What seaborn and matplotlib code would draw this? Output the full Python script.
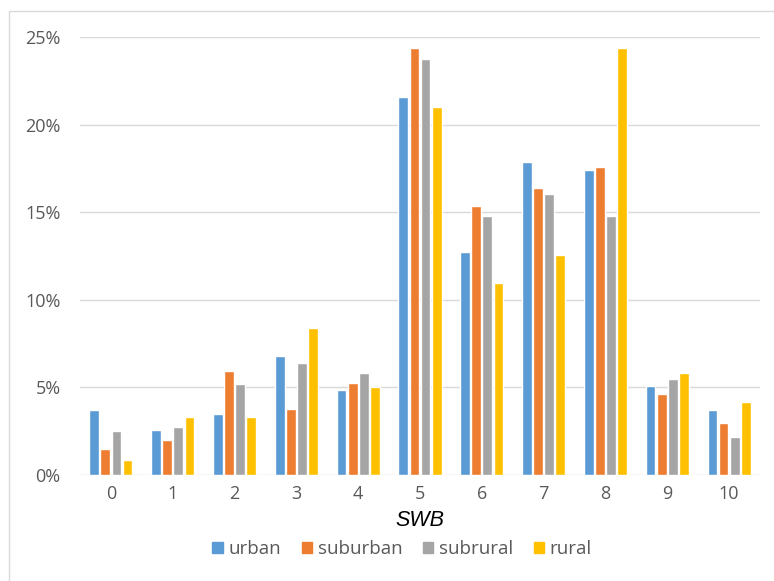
import matplotlib
matplotlib.use("Agg")
import matplotlib.pyplot as plt
import matplotlib.patches as mpatches
from matplotlib.ticker import FuncFormatter
import seaborn as sns
import pandas as pd

categories = ["0", "1", "2", "3", "4", "5", "6", "7", "8", "9", "10"]
urban    = [3.71, 2.57, 3.48, 6.77, 4.87, 21.59, 12.73, 17.88, 17.41, 5.10, 3.71]
suburban = [1.50, 2.00, 5.94, 3.79, 5.27, 24.37, 15.37, 16.40, 17.56, 4.62, 2.97]
subrural = [2.49, 2.72, 5.19, 6.41, 5.84, 23.74, 14.78, 16.02, 14.78, 5.50, 2.15]
rural    = [0.84, 3.31, 3.31, 8.41, 5.02, 21.02, 10.94, 12.56, 24.37, 5.84, 4.19]
series_names = ["urban", "suburban", "subrural", "rural"]
colors = ["#5B9BD5", "#ED7D31", "#A5A5A5", "#FFC000"]

rows = []
for name, vals in zip(series_names, [urban, suburban, subrural, rural]):
    for c, v in zip(categories, vals):
        rows.append({"SWB": c, "area": name, "value": v / 100.0})
df = pd.DataFrame(rows)

sns.set_theme(style="white")
plt.rcParams["font.family"] = ["Open Sans", "DejaVu Sans"]

W, H = 774, 581
fig = plt.figure(figsize=(W / 100, H / 100), dpi=100)
ax = fig.add_axes([80 / W, 106 / H, 680 / W, 438 / H])

sns.barplot(data=df, x="SWB", y="value", hue="area", order=categories,
            hue_order=series_names, palette=colors, ax=ax, width=0.72,
            gap=0.12, saturation=1, legend=False, errorbar=None)

ax.set_ylim(0, 0.25)
ax.set_xlim(-0.5, 10.5)
ax.set_yticks([0, 0.05, 0.10, 0.15, 0.20, 0.25])
ax.yaxis.set_major_formatter(FuncFormatter(lambda v, p: f"{v*100:.0f}%"))
ax.grid(axis="y", color="#D9D9D9", linewidth=1.0)
ax.set_axisbelow(True)
for s in ax.spines.values():
    s.set_visible(False)
ax.tick_params(axis="both", length=0, labelsize=13, labelcolor="#595959")
ax.tick_params(axis="y", pad=14)
ax.tick_params(axis="x", pad=7)
ax.set_ylabel("")
ax.set_xlabel("SWB", fontsize=15.5, fontstyle="italic",
              family=["Liberation Sans", "DejaVu Sans"], color="black", labelpad=5)

handles = [mpatches.Patch(color=c, label=n) for n, c in zip(series_names, colors)]
fig.legend(handles=handles, loc="center", bbox_to_anchor=(402 / W, 1 - 549 / H),
           ncol=4, frameon=False, fontsize=13.5, handlelength=0.55, handleheight=0.55,
           handletextpad=0.3, columnspacing=1.1, labelcolor="#595959")

border = mpatches.Rectangle((8.5 / W, -0.1), 1.2, 1 - 10.5 / H + 0.1,
                            transform=fig.transFigure, fill=False,
                            edgecolor="#D9D9D9", linewidth=1.0)
fig.patches.append(border)

fig.savefig("out.png", dpi=100)
